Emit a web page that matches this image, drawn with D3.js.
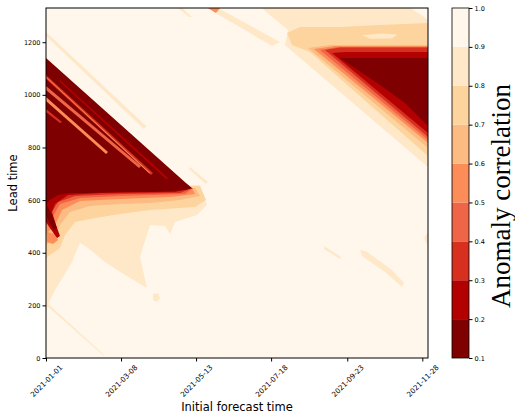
<!DOCTYPE html>
<html>
<head>
<meta charset="utf-8">
<script src="https://cdn.jsdelivr.net/npm/d3@7"></script>
<style>
  body { margin: 0; background: #fff; }
  text { font-family: "DejaVu Sans", sans-serif; fill: #000; }
</style>
</head>
<body>
<div id="container"></div>
<script>
/* CONSTANTS AND GLOBALS */
const width = 515,
  height = 417,
  margin = { top: 8, bottom: 59, left: 46, right: 87 },
  cbar = { x: 452, w: 17 };

/* DATA (days since 2021-01-01, lead time) */
const startDate = new Date(Date.UTC(2021, 0, 1));
const dayExtent = [0, 336];
const leadExtent = [0, 1330];
const xTickDays = [0, 66, 132, 198, 265, 331];
const yTicks = [0, 200, 400, 600, 800, 1000, 1200];
const levels = [0.1, 0.2, 0.3, 0.4, 0.5, 0.6, 0.7, 0.8, 0.9, 1.0];

// filled contour regions, [lower level of band, outline], painted in order
const regions = [
  // band 0.8-0.9
  [0.8, [[0,657],[135.5,657],[141.6,581],[132.8,543],[113.5,517],[109.1,471],[104.7,502],[91.5,505],[85.3,422],[82.7,384],[88.8,266],[69.5,315],[51.9,365],[36.9,418],[29.9,437],[26.4,403],[22.9,365],[17.6,327],[12.3,289],[7.9,258],[3.5,220],[0,175]]],
  [0.8, [[94.1,243],[98.5,247],[100.3,228],[97.6,213],[94.1,220]]],
  [0.8, [[0,213],[50.1,15],[51,8],[0,201]]],
  [0.8, [[0,1239],[88,882],[86.2,870],[0,1224]]],
  [0.8, [[126.7,726],[142.5,669],[140.7,661],[125.8,718]]],
  [0.8, [[116.1,1330],[119.6,1330],[128.4,1296],[125.8,1296]]],
  [0.8, [[244.5,426],[259.5,384],[258.6,376],[244.5,414]]],
  [0.8, [[276.2,410],[281.5,406],[304.3,334],[314.9,285],[313.1,270],[298.2,327],[278,388]]],
  [0.8, [[332.5,456],[336,479],[336,426]]],
  [0.8, [[141.6,1330],[151.3,1330],[205.8,1201],[198.8,1186]]],
  [0.8, [[190,1330],[336,1330],[336,726],[217.3,1163],[210.2,1189],[212.9,1246],[197,1303]]],
  [0.9, [[320.2,1330],[336,1330],[336,1284],[329,1307]]],
  // band 0.7-0.8
  [0.7, [[212,1235],[223.4,1258],[258.6,1258],[293.8,1265],[336,1273],[336,768],[232.2,1163],[216.4,1189]]],
  [0.8, [[278,1226],[296,1233],[309,1229],[304.4,1214],[285,1213]]],
  [0.7, [[0,646],[135.5,654],[140.7,600],[131.1,574],[91.5,562],[65.1,547],[43.1,532],[25.5,517],[16.7,467],[12.3,418],[3.5,391],[0,380]]],
  // band 0.6-0.7
  [0.6, [[0,646],[131.1,646],[135.5,616],[117.9,600],[91.5,589],[65.1,585],[38.7,578],[21.1,555],[12.3,505],[7.9,456],[0,429]]],
  [0.6, [[230.5,1178],[249.8,1189],[336,1189],[336,798]]],
  // band 0.5-0.6
  [0.5, [[0,646],[128.4,646],[131.1,623],[109.1,612],[65.1,604],[29.9,597],[14.1,562],[7.9,505],[1.8,479],[0,467]]],
  [0.5, [[0.9,479],[7.9,471],[10.6,448],[6.2,433],[0.9,441]]],
  [0.5, [[235.7,1174],[254.2,1186],[336,1186],[336,817]]],
  [0.5, [[142.5,1330],[153.1,1330],[149.5,1311]]],
  // band 0.4-0.5
  [0.4, [[0,646],[129.3,646],[122.3,623],[65.1,616],[29.9,608],[12.3,585],[5.3,532],[0,505]]],
  [0.4, [[241,1170],[256.9,1182],[336,1182],[336,828]]],
  // band 0.3-0.4
  [0.3, [[0,646],[129.3,646],[117.9,627],[65.1,623],[25.5,616],[10.6,593],[3.5,543],[0,524]]],
  [0.3, [[245.4,1170],[258.6,1180],[336,1180],[336,840]]],
  // band 0.2-0.3
  [0.2, [[0,646],[129.3,646],[113.5,631],[47.5,627],[19.4,619],[7.9,585],[5.3,555],[8.8,505],[12.3,464],[9.7,456],[3.5,494],[0,517]]],
  [0.2, [[251.6,1159],[263,1163],[336,1163],[336,855]]],
  // band 0.1-0.2
  [0.1, [[0,1140],[123.1,665],[128.4,646],[122.3,638],[109.1,635],[91.5,631],[65.1,631],[38.7,627],[21.1,627],[10.6,619],[3.5,600],[0,581]]],
  [0.1, [[0.9,581],[5.3,543],[9.7,494],[7,486],[1.8,524],[0,547]]],
  [0.1, [[258.6,1140],[271.8,1140],[336,1140],[336,882],[315.8,969],[293.8,1037]]],
  // streaks inside the left triangle
  [0.3, [[0,1075],[94.1,703],[92.4,695],[0,1060]]],
  [0.5, [[0,1070],[91.5,704],[91,701],[0,1066]]],
  [0.4, [[0,1034],[83.6,730],[81.8,722],[0,1018]]],
  [0.5, [[0,992],[54.5,783],[52.8,775],[0,977]]],
  [0.3, [[0,946],[14.1,897],[12.3,893],[0,935]]],
  [0.2, [[12.3,1056],[107.3,684],[105.6,680],[12.3,1049]]]
];

/* SCALES */
const toDate = d => new Date(startDate.getTime() + d * 864e5);

const xScale = d3.scaleUtc()
  .domain(dayExtent.map(toDate))
  .range([margin.left, width - margin.right]);

const yScale = d3.scaleLinear()
  .domain(leadExtent)
  .range([height - margin.bottom, margin.top]);

const colorScale = d3.scaleQuantize()
  .domain([levels[0], levels[levels.length - 1]])
  .range(d3.schemeOrRd[9].slice().reverse());

const cScale = d3.scaleLinear()
  .domain([levels[0], levels[levels.length - 1]])
  .range([height - margin.bottom, margin.top]);

/* HTML ELEMENTS */
const svg = d3.select("#container")
  .append("svg")
  .attr("width", width)
  .attr("height", height);

svg.append("clipPath").attr("id", "plot")
  .append("rect")
  .attr("x", margin.left).attr("y", margin.top)
  .attr("width", width - margin.right - margin.left)
  .attr("height", height - margin.bottom - margin.top);

const field = svg.append("g").attr("clip-path", "url(#plot)");

field.append("rect")
  .attr("x", margin.left).attr("y", margin.top)
  .attr("width", width - margin.right - margin.left)
  .attr("height", height - margin.bottom - margin.top)
  .attr("fill", colorScale(0.95));

const line = d3.line()
  .x(p => xScale(toDate(p[0])))
  .y(p => yScale(p[1]))
  .curve(d3.curveLinearClosed);

field.selectAll("path")
  .data(regions)
  .join("path")
  .attr("d", d => line(d[1]))
  .attr("fill", d => colorScale(d[0] + 0.05));

// axes
const xAxis = d3.axisBottom(xScale)
  .tickValues(xTickDays.map(toDate))
  .tickSize(3.5)
  .tickFormat(d3.utcFormat("%Y-%m-%d"));

const gx = svg.append("g")
  .attr("transform", `translate(0,${height - margin.bottom})`)
  .call(xAxis);
gx.select(".domain").remove();
gx.selectAll("text")
  .style("font-size", "7.2px")
  .attr("y", 0).attr("dy", 0)
  .attr("text-anchor", "middle")
  .attr("dominant-baseline", "central")
  .attr("transform", "translate(0,23) rotate(-45)");

const yAxis = d3.axisLeft(yScale)
  .tickValues(yTicks)
  .tickSize(3.5)
  .tickFormat(d3.format("d"));

const gy = svg.append("g")
  .attr("transform", `translate(${margin.left},0)`)
  .call(yAxis);
gy.select(".domain").remove();
gy.selectAll("text")
  .style("font-size", "6.5px")
  .attr("x", -5.5);

svg.append("rect")
  .attr("x", margin.left).attr("y", margin.top)
  .attr("width", width - margin.right - margin.left)
  .attr("height", height - margin.bottom - margin.top)
  .attr("fill", "none")
  .attr("stroke", "#000")
  .attr("stroke-width", 1);

svg.append("text")
  .attr("x", (margin.left + width - margin.right) / 2)
  .attr("y", 411)
  .attr("text-anchor", "middle")
  .style("font-size", "11.5px")
  .text("Initial forecast time");

svg.append("text")
  .attr("transform", `translate(17,${(margin.top + height - margin.bottom) / 2}) rotate(-90)`)
  .attr("text-anchor", "middle")
  .style("font-size", "11.5px")
  .text("Lead time");

// colorbar
svg.append("g")
  .selectAll("rect")
  .data(d3.pairs(levels))
  .join("rect")
  .attr("x", cbar.x)
  .attr("width", cbar.w)
  .attr("y", d => cScale(d[1]))
  .attr("height", d => cScale(d[0]) - cScale(d[1]))
  .attr("fill", d => colorScale((d[0] + d[1]) / 2));

svg.append("rect")
  .attr("x", cbar.x).attr("y", margin.top)
  .attr("width", cbar.w)
  .attr("height", height - margin.bottom - margin.top)
  .attr("fill", "none")
  .attr("stroke", "#000")
  .attr("stroke-width", 0.8);

const cAxis = d3.axisRight(cScale)
  .tickValues(levels)
  .tickSize(3.5)
  .tickFormat(d3.format(".1f"));

const gc = svg.append("g")
  .attr("transform", `translate(${cbar.x + cbar.w},0)`)
  .call(cAxis);
gc.select(".domain").remove();
gc.selectAll("text")
  .style("font-size", "6.5px")
  .attr("x", 5.5);

svg.append("text")
  .attr("transform", "translate(510,196) rotate(-90)")
  .attr("text-anchor", "middle")
  .style("font-family", "'Liberation Serif', serif")
  .style("font-size", "27px")
  .text("Anomaly correlation");
</script>
</body>
</html>
